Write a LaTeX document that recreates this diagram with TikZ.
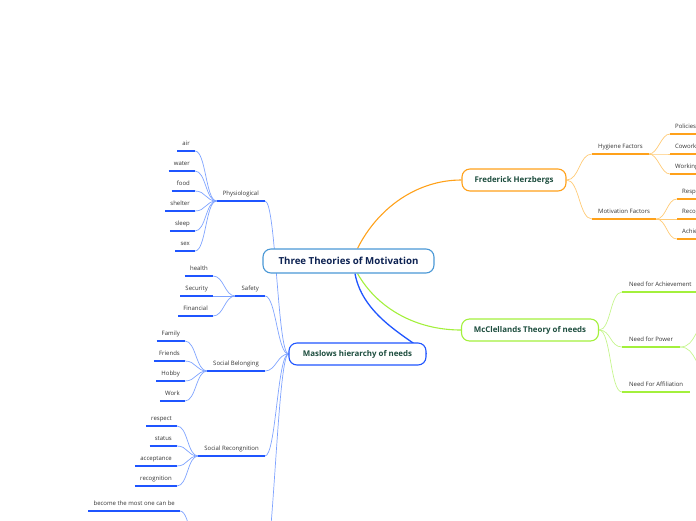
\documentclass[tikz,border=0pt]{standalone}
\usepackage{fontspec}
\setmainfont{Open Sans}
\usetikzlibrary{backgrounds}
\definecolor{blueUL}{HTML}{1F55FF}
\definecolor{blueLN}{HTML}{7FA3FF}
\definecolor{orangeUL}{HTML}{FFA11A}
\definecolor{orangeLN}{HTML}{FFCA75}
\definecolor{greenUL}{HTML}{A3F03C}
\definecolor{greenLN}{HTML}{C6F58E}
\definecolor{cbord}{HTML}{4A98D6}
\definecolor{navy}{HTML}{0D2252}
\definecolor{tgreen}{HTML}{1D4D3E}
\definecolor{tgray}{HTML}{333333}
\tikzset{
  leaf/.style={font=\fontsize{6}{7}\selectfont, text=tgray, inner xsep=5pt, inner ysep=5.6pt, text depth=0pt},
  leafL/.style={leaf, anchor=south east},
  leafR/.style={leaf, anchor=south west},
  title/.style={draw, fill=white, rounded corners=8pt, line width=1.1pt, inner sep=0pt, text=tgreen, font=\bfseries\fontsize{7.9}{9}\selectfont, minimum height=22pt},
  bul/.style={blueUL, line width=1.8pt},
  bln/.style={blueLN, line width=0.7pt},
  oul/.style={orangeUL, line width=1.8pt},
  oln/.style={orangeLN, line width=0.7pt},
  gul/.style={greenUL, line width=1.8pt},
  gln/.style={greenLN, line width=0.7pt},
}
\begin{document}
\begin{tikzpicture}[x=1pt,y=-1pt]
\useasboundingbox (0,0) rectangle (696,520);
\clip (0,0) rectangle (696,520);

% title nodes
\node[title, draw=cbord, text=navy, font=\bfseries\fontsize{9.7}{11}\selectfont, minimum width=171pt, minimum height=24pt] (c) at (348.5,261) {Three Theories of Motivation};
\node[title, draw=blueUL, minimum width=137pt] (mas) at (357.5,354) {Maslows hierarchy of needs};
\node[title, draw=orangeUL, minimum width=104pt] (her) at (514,180) {Frederick Herzbergs};
\node[title, draw=greenUL, minimum width=137pt] (mcc) at (530,330) {McClellands Theory of needs};

% Maslow subtopics
\node[leafL, inner xsep=6pt] (phy) at (265,201) {Physiological};
\node[leafL, inner xsep=6pt] (saf) at (265,296) {Safety};
\node[leafL, inner xsep=6pt] (soc) at (265,371) {Social Belonging};
\node[leafL, inner xsep=6pt] (rec) at (265,456) {Social Recongnition};
\coordinate (sa) at (262,580);
\coordinate (sapar) at (202,560);

% Physiological leaves
\node[leafL] (air) at (195,151) {air};
\node[leafL] (water) at (195,171) {water};
\node[leafL] (food) at (195,191) {food};
\node[leafL] (shelter) at (195,211) {shelter};
\node[leafL] (sleep) at (195,231) {sleep};
\node[leafL] (sex) at (195,251) {sex};
% Safety leaves
\node[leafL] (health) at (213,276) {health};
\node[leafL] (security) at (213,296) {Security};
\node[leafL] (financial) at (213,316) {Financial};
% Social belonging leaves
\node[leafL] (family) at (185,341) {Family};
\node[leafL] (friends) at (185,361) {Friends};
\node[leafL] (hobby) at (185,381) {Hobby};
\node[leafL] (work) at (185,401) {Work};
% Social recognition leaves
\node[leafL] (respect) at (177,426) {respect};
\node[leafL] (status) at (177,446) {status};
\node[leafL] (acceptance) at (177,466) {acceptance};
\node[leafL] (recognition) at (177,486) {recognition};
% self actualization leaf
\node[leafL] (become) at (180,511) {become the most one can be};

% Herzberg side
\node[leafR, inner xsep=6pt] (hyg) at (592,154) {Hygiene Factors};
\node[leafR, inner xsep=6pt] (mot) at (592,219) {Motivation Factors};
\node[leafR] (pol) at (670,134) {Policies};
\node[leafR] (cow) at (670,154) {Coworkers};
\node[leafR] (wor) at (670,174) {Working Conditions};
\node[leafR] (res) at (677,199) {Responsibility};
\node[leafR] (rcg) at (677,219) {Recognition};
\node[leafR] (ach) at (677,239) {Achievement};

% McClelland side
\node[leafR, inner xsep=7pt] (nach) at (622,292) {Need for Achievement};
\node[leafR, inner xsep=7pt] (npow) at (622,347) {Need for Power};
\node[leafR, inner xsep=7pt] (naff) at (622,392) {Need For Affiliation};
\coordinate (pw1) at (711,322);
\coordinate (pw2) at (711,372);

\begin{pgfonlayer}{background}
% connectors: main
\draw[orangeUL, line width=1.1pt] ([xshift=9pt]c.north) .. controls +(20,-40) and +(-45,0) .. (her.west);
\draw[greenUL, line width=1.1pt] ([xshift=9pt]c.south) .. controls +(20,35) and +(-45,0) .. (mcc.west);
\draw[blueUL, line width=1.3pt] ([xshift=6.5pt]c.south) .. controls +(8,45) and +(-12,-14) .. (mas.east);

% Maslow connectors
\foreach \n in {phy,saf,soc,rec}
  \draw[bln] (\n.south east) .. controls +(11,0) and +(-11,0) .. (mas.west);
\draw[bln] (sa) .. controls +(11,0) and +(-11,0) .. (mas.west);
\foreach \n in {air,water,food,shelter,sleep,sex}
  \draw[bln] (\n.south east) .. controls +(11,0) and +(-11,0) .. (phy.south west);
\foreach \n in {health,security,financial}
  \draw[bln] (\n.south east) .. controls +(11,0) and +(-11,0) .. (saf.south west);
\foreach \n in {family,friends,hobby,work}
  \draw[bln] (\n.south east) .. controls +(11,0) and +(-11,0) .. (soc.south west);
\foreach \n in {respect,status,acceptance,recognition}
  \draw[bln] (\n.south east) .. controls +(11,0) and +(-11,0) .. (rec.south west);
\draw[bln] (become.south east) .. controls +(11,0) and +(-11,0) .. (sapar);

% Herzberg connectors
\foreach \n in {hyg,mot}
  \draw[oln] (her.east) .. controls +(13,0) and +(-13,0) .. (\n.south west);
\foreach \n in {pol,cow,wor}
  \draw[oln] (hyg.south east) .. controls +(9,0) and +(-9,0) .. (\n.south west);
\foreach \n in {res,rcg,ach}
  \draw[oln] (mot.south east) .. controls +(10,0) and +(-10,0) .. (\n.south west);

% McClelland connectors
\foreach \n in {nach,npow,naff}
  \draw[gln] (mcc.east) .. controls +(12,0) and +(-12,0) .. (\n.south west);
\foreach \n in {pw1,pw2}
  \draw[gln] (npow.south east) .. controls +(17,0) and +(-17,0) .. (\n);
\end{pgfonlayer}

% underlines
\foreach \n in {phy,saf,soc,rec,air,water,food,shelter,sleep,sex,health,security,financial,family,friends,hobby,work,respect,status,acceptance,recognition,become}
  \draw[bul] (\n.south west) -- (\n.south east);
\foreach \n in {hyg,mot,pol,cow,wor,res,rcg,ach}
  \draw[oul] (\n.south west) -- (\n.south east);
\foreach \n in {nach,npow,naff}
  \draw[gul] (\n.south west) -- (\n.south east);
\end{tikzpicture}
\end{document}
